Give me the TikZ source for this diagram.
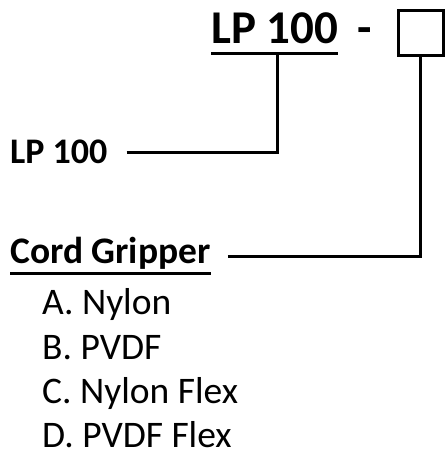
\documentclass[tikz,border=0pt]{standalone}
\usepackage{fontspec}
\setmainfont{Carlito}
\begin{document}
\begin{tikzpicture}[x=1pt,y=-1pt,
  conn/.style={line width=3pt,line cap=butt},
  ul/.style={line width=3pt},
  txt/.style={inner sep=0pt,anchor=base west},
  bigtxt/.style={txt,font=\fontsize{47}{50}\selectfont\bfseries},
  lbl/.style={txt,font=\fontsize{36}{40}\selectfont\bfseries},
  item/.style={txt,font=\fontsize{37.5}{40}\selectfont}]
\useasboundingbox (0,0) rectangle (445,450);
\node[bigtxt] (top) at (211,43) {LP 100};
\node[bigtxt,anchor=base] (dash) at (365,43) {-};
\node[draw,line width=3pt,minimum size=45pt,inner sep=0pt] (box) at (420.5,32.5) {};
\node[lbl] (lpl) at (10,163) {LP 100};
\node[lbl,font=\fontsize{37.5}{40}\selectfont\bfseries] (cg) at (10,263) {Cord Gripper};
\node[item] (a) at (42,314) {A. Nylon};
\node[item] (b) at (42,359) {B. PVDF};
\node[item] (c) at (42,403) {C. Nylon Flex};
\node[item] (d) at (42,447) {D. PVDF Flex};
\draw[ul] ([yshift=-10]top.base west) -- ([yshift=-10]top.base east);
\draw[ul] ([yshift=-10]cg.base west) -- ([yshift=-10]cg.base east);
\coordinate (j1) at (277,53);
\draw[conn] ([shift={(19,-11)}]lpl.base east) -| (j1);
\draw[conn] ([shift={(17,-7)}]cg.base east) -| (box.south);
\end{tikzpicture}
\end{document}
